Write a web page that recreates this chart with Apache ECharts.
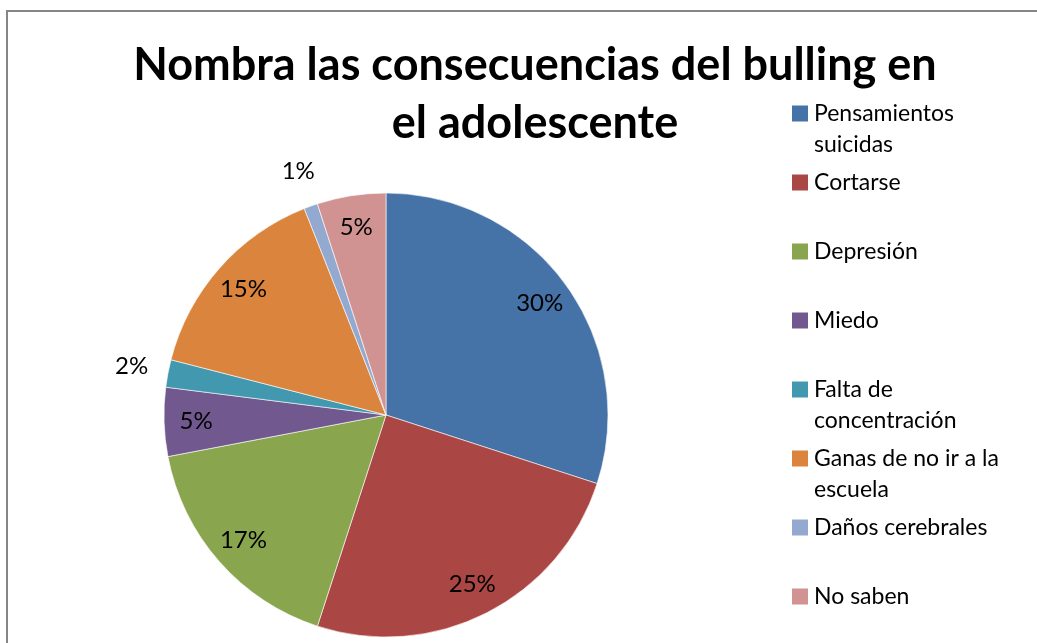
<!DOCTYPE html>
<html>
<head>
<meta charset="utf-8">
<script src="https://cdn.jsdelivr.net/npm/echarts@6/dist/echarts.min.js"></script>
<style>
  html, body { margin: 0; padding: 0; background: #fff; }
  #chart { width: 1037px; height: 643px; }
</style>
</head>
<body>
<div id="chart"></div>
<script>
// datos
var categorias = ['Pensamientos suicidas', 'Cortarse', 'Depresión', 'Miedo',
    'Falta de concentración', 'Ganas de no ir a la escuela', 'Daños cerebrales', 'No saben'];
var etiquetasLeyenda = ['Pensamientos\nsuicidas', 'Cortarse', 'Depresión', 'Miedo',
    'Falta de\nconcentración', 'Ganas de no ir a la\nescuela', 'Daños cerebrales', 'No saben'];
var valores = [30, 25, 17, 5, 2, 15, 1, 5];
var colores = ['#4572A7', '#AA4643', '#89A54E', '#71588F', '#4198AF', '#DB843D', '#93A9CF', '#D19392'];

var fuente = 'Lato';
var cx = 386, cy = 415, R = 222;

var myChart = echarts.init(document.getElementById('chart'));

var datos = [];
for (var i in categorias) {
    datos.push({ name: categorias[i], value: valores[i] });
}

// etiquetas: las grandes dentro, las pequeñas fuera
function capaEtiquetas(r0, r1, mostrar) {
    return {
        type: 'pie',
        silent: true,
        center: [cx, cy],
        radius: [r0, r1],
        startAngle: 90,
        clockwise: true,
        avoidLabelOverlap: false,
        data: datos,
        itemStyle: { color: 'rgba(0,0,0,0)', borderWidth: 0 },
        label: {
            show: true,
            position: 'inside',
            color: '#000',
            fontFamily: fuente,
            fontSize: 24,
            formatter: function (p) {
                return mostrar(p.value) ? p.value + '%' : '';
            }
        },
        labelLine: { show: false },
        emphasis: { disabled: true },
        tooltip: { show: false }
    };
}

// leyenda: linea vacia arriba para que el cuadrado quede en la primera linea
var leyendaMap = {};
for (var j in categorias) {
    var t = etiquetasLeyenda[j];
    if (t.indexOf('\n') < 0) t = t + '\n ';
    leyendaMap[categorias[j]] = ' \n' + t;
}

var option = {
    animation: false,
    color: colores,
    title: {
        text: 'Nombra las consecuencias del bulling en\nel adolescente',
        left: 530,
        top: 31,
        textAlign: 'center',
        textStyle: {
            fontFamily: fuente,
            fontWeight: 'bold',
            fontSize: 45,
            lineHeight: 58,
            color: '#000'
        }
    },
    legend: {
        orient: 'vertical',
        left: 790,
        top: 67,
        padding: 0,
        itemWidth: 18,
        itemHeight: 18,
        itemGap: -24,
        icon: 'rect',
        selectedMode: false,
        data: categorias,
        formatter: function (name) { return leyendaMap[name]; },
        textStyle: {
            fontFamily: fuente,
            fontSize: 23,
            lineHeight: 31,
            color: '#000'
        }
    },
    graphic: [{
        type: 'rect',
        shape: { x: 7, y: 11, width: 1100, height: 700 },
        style: { fill: 'none', stroke: '#868686', lineWidth: 2 },
        z: -1
    }],
    series: [{
        type: 'pie',
        center: [cx, cy],
        radius: R,
        startAngle: 90,
        clockwise: true,
        data: datos,
        label: { show: false },
        labelLine: { show: false },
        itemStyle: { borderColor: '#ffffff', borderWidth: 0.6 },
        emphasis: { disabled: true }
    },
    capaEtiquetas(146, 228, function (v) { return v >= 3; }),
    capaEtiquetas(236, 276, function (v) { return v < 3; })
    ]
};
myChart.setOption(option);
</script>
</body>
</html>
